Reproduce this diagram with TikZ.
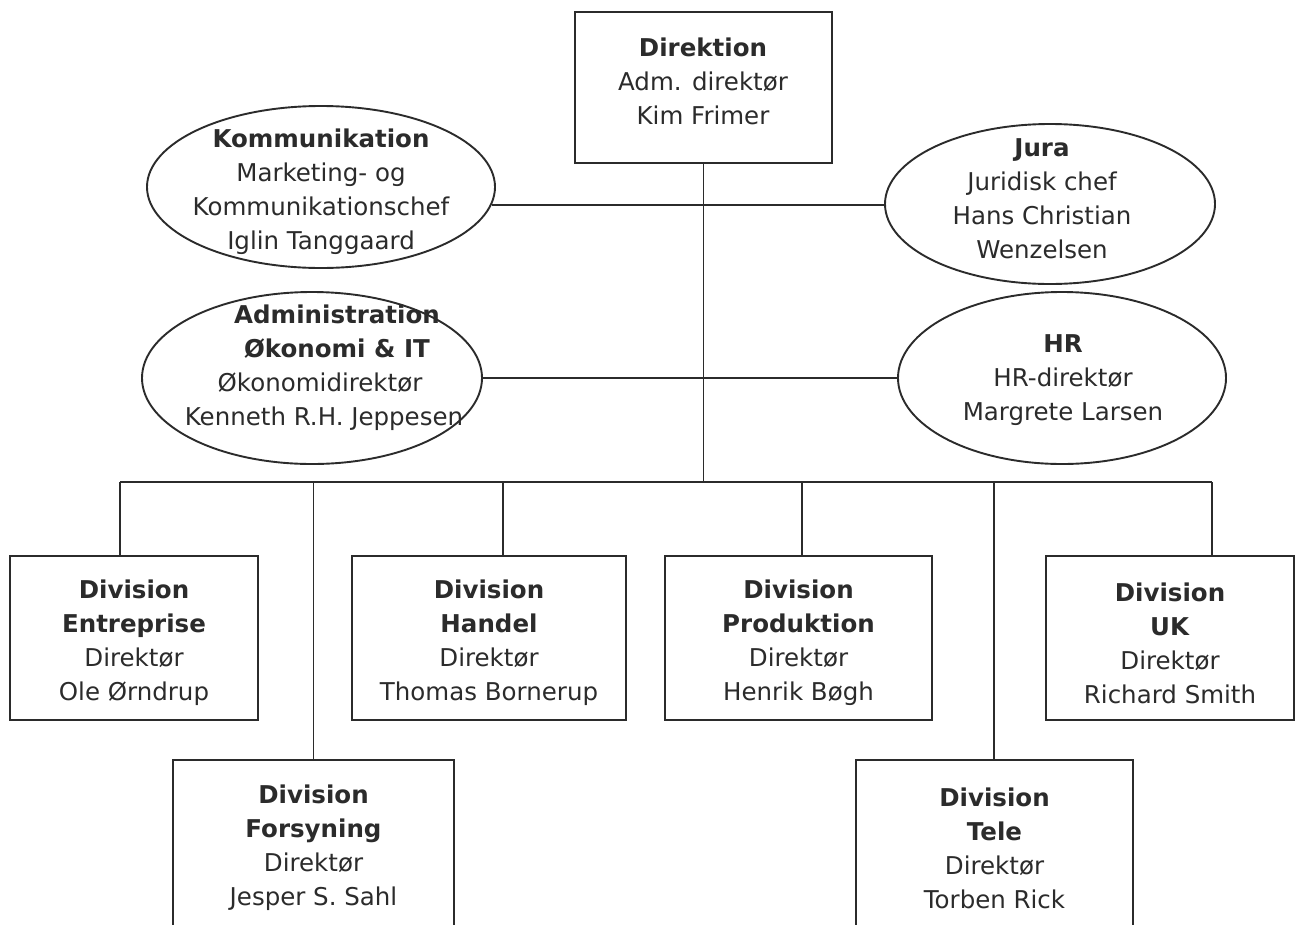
\documentclass[tikz,border=0pt]{standalone}
\usepackage{fontspec}
\setmainfont{DejaVu Sans}
\usetikzlibrary{shapes.geometric}
\definecolor{ink}{HTML}{2B2B2B}
\tikzset{
  conn/.style={draw=ink, line width=1.9pt},
  orgbox/.style={draw=ink, line width=1.9pt, rectangle, inner sep=0pt, fill=white},
  orgell/.style={draw=ink, line width=1.9pt, ellipse, inner sep=0pt},
  txt/.style={align=center, inner sep=0pt, text=ink, font=\fontsize{24.5}{34}\selectfont}
}
\begin{document}
\begin{tikzpicture}[x=1pt,y=-1pt]
\useasboundingbox (0,0) rectangle (1298,924);
\clip (0,0) rectangle (1298,924);
\fill[white] (0,0) rectangle (1298,924);

% coordinates on the bus
\coordinate (busL) at (120,482);
\coordinate (busR) at (1212,482);
\coordinate (hd) at (503,482);
\coordinate (pd) at (802,482);
\coordinate (td) at (994,482);

% top box
\node[orgbox, minimum width=257pt, minimum height=151pt] (dir) at (703.5,87.5) {};
\node[txt] (dirT) at (703,81) {\textbf{Direktion}\\Adm. direktør\\Kim Frimer};

% staff ellipses
\node[orgell, minimum width=348pt, minimum height=162pt] (kom) at (321,187) {};
\node[txt] (komT) at (321,192) {\textbf{Kommunikation}\\Marketing- og\\Kommunikationschef\\Iglin Tanggaard};

\node[orgell, minimum width=330pt, minimum height=160pt] (jura) at (1050,204) {};
\node[txt] (juraT) at (1042,199) {\textbf{Jura}\\Juridisk chef\\Hans Christian\\Wenzelsen};

\node[orgell, minimum width=340pt, minimum height=172pt] (adm) at (312,378) {};
\node[txt] (admT) at (320,368) {\hspace*{34pt}\textbf{Administration}\\\hspace*{34pt}\textbf{Økonomi \& IT}\\Økonomidirektør\hspace*{12pt}\\\hspace*{8pt}Kenneth R.H. Jeppesen};

\node[orgell, minimum width=328pt, minimum height=172pt] (hr) at (1062,378) {};
\node[txt] (hrT) at (1063,380) {\textbf{HR}\\HR-direktør\\Margrete Larsen};

% division boxes, first row
\node[orgbox, minimum width=248pt, minimum height=164pt] (ent) at (134,638) {};
\node[txt] (entT) at (134,643) {\textbf{Division}\\\textbf{Entreprise}\\Direktør\\Ole Ørndrup};

\node[orgbox, minimum width=274pt, minimum height=164pt] (han) at (489,638) {};
\node[txt] (hanT) at (489,643) {\textbf{Division}\\\textbf{Handel}\\Direktør\\Thomas Bornerup};

\node[orgbox, minimum width=267pt, minimum height=164pt] (pro) at (798.5,638) {};
\node[txt] (proT) at (798.5,643) {\textbf{Division}\\\textbf{Produktion}\\Direktør\\Henrik Bøgh};

\node[orgbox, minimum width=248pt, minimum height=164pt] (uk) at (1170,638) {};
\node[txt] (ukT) at (1170,643) {\textbf{Division}\\\textbf{UK}\\Direktør\\Richard Smith};

% division boxes, second row
\node[orgbox, minimum width=281pt, minimum height=200pt] (fors) at (313.5,860) {};
\node[txt] (forsT) at (313.5,848) {\textbf{Division}\\\textbf{Forsyning}\\Direktør\\Jesper S. Sahl};

\node[orgbox, minimum width=277pt, minimum height=200pt] (tele) at (994.5,860) {};
\node[txt] (teleT) at (994.5,848) {\textbf{Division}\\\textbf{Tele}\\Direktør\\Torben Rick};

% connectors
\draw[conn] (kom.-6) -- (kom.-6 -| jura.west);
\draw[conn] (dir.south) -- (dir.south |- busL);
\draw[conn] (adm.east) -- (hr.west);
\draw[conn] (busL) -- (busR);
\draw[conn] (busL) -- (busL |- ent.north);
\draw[conn] (fors.north |- busL) -- (fors.north);
\draw[conn] (hd) -- (hd |- han.north);
\draw[conn] (pd) -- (pd |- pro.north);
\draw[conn] (td) -- (td |- tele.north);
\draw[conn] (busR) -- (busR |- uk.north);
\end{tikzpicture}
\end{document}
